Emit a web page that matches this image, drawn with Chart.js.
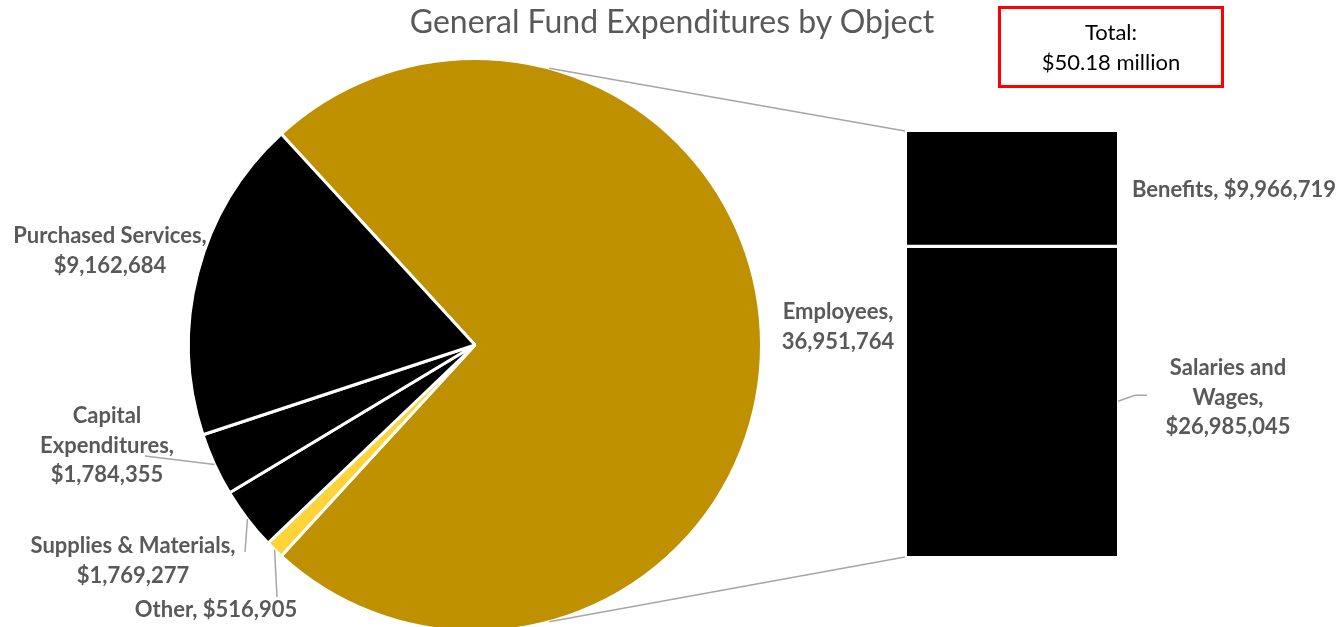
<!DOCTYPE html>
<html>
<head>
<meta charset="utf-8">
<script src="https://cdn.jsdelivr.net/npm/chart.js@4.4.1/dist/chart.umd.min.js"></script>
<style>
  html, body { margin: 0; padding: 0; background: #fff; overflow: hidden; }
  #wrap { position: relative; width: 1341px; height: 627px; overflow: hidden; font-family: Lato, "Noto Sans", sans-serif; }
  #wrap canvas { position: absolute; left: 0; top: 0; }
  #title { position: absolute; left: 0; width: 1344px; top: 2px; text-align: center; font-size: 32px; line-height: 38px; color: #595959; }
  #total { position: absolute; left: 998px; top: 6px; width: 220px; border: 3px solid #ff0000; text-align: center; font-size: 22px; line-height: 30px; color: #000; padding-top: 8px; height: 68px; }
</style>
</head>
<body>
<div id="wrap">
  <canvas id="pieChart" width="1341" height="660"></canvas>
  <canvas id="barChart" width="1341" height="627"></canvas>
  <div id="title">General Fund Expenditures by Object</div>
  <div id="total">Total:<br>$50.18 million</div>
</div>
<script>
// Data
const categories = ["Employees", "Other", "Supplies & Materials", "Capital Expenditures", "Purchased Services"];
const amounts = [36951764, 516905, 1769277, 1784355, 9162684];
const breakdownCategories = ["Salaries and Wages", "Benefits"];
const breakdownAmounts = [26985045, 9966719];

const pieColors = ["#bf9000", "#ffd43b", "#000000", "#000000", "#000000"];
const labelColor = "#595959";
const leaderColor = "#a6a6a6";
const labelFont = "bold 22px Lato, 'Noto Sans', sans-serif";

// label layout (positions only, texts come from the data)
const pieLabels = [
  { x: 838, y: 312, wrap: "name", dollar: false },
  { x: 216, y: 610, wrap: "none", dollar: true, from: [277, 597] },
  { x: 133, y: 546, wrap: "name", dollar: true, from: [245, 552] },
  { x: 107, y: 416, wrap: "word", dollar: true, from: [145, 456] },
  { x: 110, y: 236, wrap: "name", dollar: true },
];
const barLabels = [
  { x: 1228, y: 368, wrap: "and" },
  { x: 1234, y: 190, wrap: "none" },
];
const lineGap = 29.5;

function fmt(v, dollar) {
  return (dollar ? "$" : "") + v.toLocaleString("en-US");
}

function labelLines(name, value, wrap) {
  if (wrap === "none") return [name + ", " + value];
  if (wrap === "name") return [name + ",", value];
  if (wrap === "word") {
    const i = name.indexOf(" ");
    return [name.slice(0, i), name.slice(i + 1) + ",", value];
  }
  if (wrap === "and") {
    const i = name.lastIndexOf(" ");
    return [name.slice(0, i), name.slice(i + 1) + ",", value];
  }
  return [name, value];
}

function drawLines(ctx, lines, x, y) {
  ctx.save();
  ctx.font = labelFont;
  ctx.fillStyle = labelColor;
  ctx.textAlign = "center";
  ctx.textBaseline = "middle";
  lines.forEach((t, i) => ctx.fillText(t, x, y + i * lineGap));
  ctx.restore();
}

function leader(ctx, pts) {
  ctx.save();
  ctx.strokeStyle = leaderColor;
  ctx.lineWidth = 1.5;
  ctx.beginPath();
  ctx.moveTo(pts[0][0], pts[0][1]);
  for (let i = 1; i < pts.length; i++) ctx.lineTo(pts[i][0], pts[i][1]);
  ctx.stroke();
  ctx.restore();
}

const total = amounts.reduce((a, b) => a + b, 0);
const firstShare = amounts[0] / total * 360;

const pieLabelPlugin = {
  id: "pieLabels",
  afterDatasetsDraw(chart) {
    const ctx = chart.ctx;
    const arcs = chart.getDatasetMeta(0).data;
    arcs.forEach((arc, i) => {
      const cfg = pieLabels[i];
      const mid = (arc.startAngle + arc.endAngle) / 2;
      if (cfg.from) {
        const ex = arc.x + Math.cos(mid) * arc.outerRadius;
        const ey = arc.y + Math.sin(mid) * arc.outerRadius;
        leader(ctx, [cfg.from, [ex, ey]]);
      }
      drawLines(ctx, labelLines(categories[i], fmt(amounts[i], cfg.dollar), cfg.wrap), cfg.x, cfg.y);
    });
  },
};

const pieChart = new Chart(document.getElementById("pieChart"), {
  type: "pie",
  data: {
    labels: categories,
    datasets: [{
      data: amounts,
      backgroundColor: pieColors,
      borderColor: "#ffffff",
      borderWidth: 3,
    }],
  },
  options: {
    responsive: false,
    animation: false,
    events: [],
    // Employees slice centred on the right-hand side
    rotation: 90 - firstShare / 2,
    layout: { padding: { left: 187, right: 578, top: 57, bottom: 27 } },
    plugins: { legend: { display: false }, tooltip: { enabled: false } },
  },
  plugins: [pieLabelPlugin],
});

const barLabelPlugin = {
  id: "barLabels",
  beforeDatasetsDraw(chart) {
    const ctx = chart.ctx;
    const arc = pieChart.getDatasetMeta(0).data[0];
    const bar = chart.getDatasetMeta(0).data[0];
    const left = bar.x - bar.width / 2;
    const top = chart.scales.y.getPixelForValue(breakdownAmounts[0] + breakdownAmounts[1]);
    const bottom = chart.scales.y.getPixelForValue(0);
    const a = 75 * Math.PI / 180;
    leader(ctx, [[arc.x + Math.cos(-a) * arc.outerRadius, arc.y + Math.sin(-a) * arc.outerRadius], [left - 2, top - 1]]);
    leader(ctx, [[arc.x + Math.cos(a) * arc.outerRadius, arc.y + Math.sin(a) * arc.outerRadius], [left - 2, bottom + 1]]);
  },
  afterDatasetsDraw(chart) {
    const ctx = chart.ctx;
    breakdownAmounts.forEach((v, i) => {
      const bar = chart.getDatasetMeta(i).data[0];
      const cfg = barLabels[i];
      if (i === 0) {
        const right = bar.x + bar.width / 2;
        const midY = (bar.y + bar.base) / 2;
        leader(ctx, [[right + 1, midY], [cfg.x - 93, midY - 6], [cfg.x - 81, midY - 6]]);
      }
      drawLines(ctx, labelLines(breakdownCategories[i], fmt(v, true), cfg.wrap), cfg.x, cfg.y);
    });
  },
};

new Chart(document.getElementById("barChart"), {
  type: "bar",
  data: {
    labels: [""],
    datasets: [
      {
        label: breakdownCategories[0],
        data: [breakdownAmounts[0]],
        backgroundColor: "#000000",
        borderColor: "#ffffff",
        borderWidth: { top: 2, bottom: 0, left: 0, right: 0 },
        borderSkipped: false,
      },
      {
        label: breakdownCategories[1],
        data: [breakdownAmounts[1]],
        backgroundColor: "#000000",
        borderColor: "#ffffff",
        borderWidth: { top: 0, bottom: 2, left: 0, right: 0 },
        borderSkipped: false,
      },
    ],
  },
  options: {
    responsive: false,
    animation: false,
    events: [],
    layout: { padding: { left: 907, right: 224, top: 132, bottom: 71 } },
    datasets: { bar: { barPercentage: 1, categoryPercentage: 1 } },
    scales: {
      x: { display: false, stacked: true },
      y: { display: false, stacked: true, min: 0, max: breakdownAmounts[0] + breakdownAmounts[1] },
    },
    plugins: { legend: { display: false }, tooltip: { enabled: false } },
  },
  plugins: [barLabelPlugin],
});
</script>
</body>
</html>
